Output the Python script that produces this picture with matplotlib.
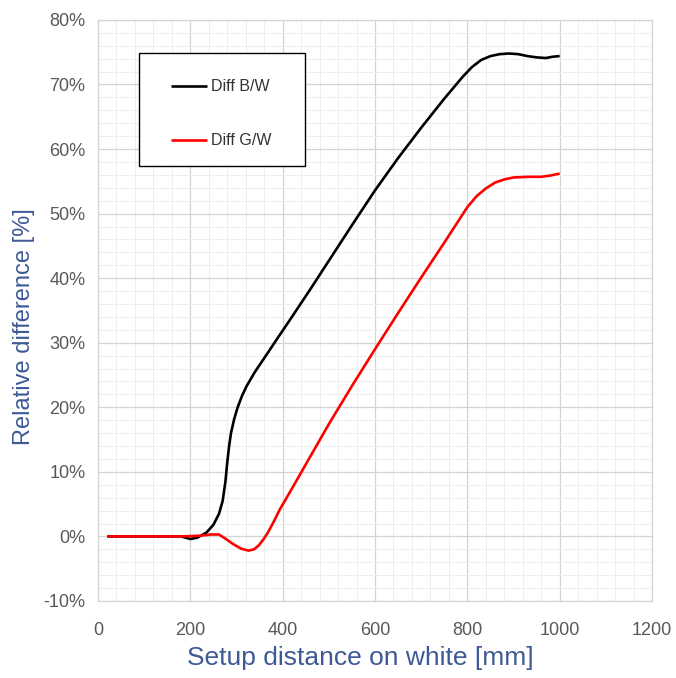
import numpy as np
import matplotlib.pyplot as plt
from matplotlib.patches import Rectangle
from matplotlib.ticker import MultipleLocator, PercentFormatter

# Diff B/W (black)
bw_x = [20, 100, 180, 200, 215, 235, 250, 262, 270, 276, 280, 284, 288, 295, 302, 312, 322, 340, 358,
        387, 420, 460, 500, 550, 600, 650, 700, 750, 790, 810, 830, 850, 870, 890, 910, 930, 950, 970, 985, 1000]
bw_y = [0.0, 0.0, 0.0, -0.4, -0.2, 0.6, 1.8, 3.5, 5.5, 8.5, 11.5, 14.0, 16.0, 18.2, 19.9, 21.8, 23.3, 25.5, 27.4,
        30.5, 34.0, 38.3, 42.7, 48.2, 53.6, 58.6, 63.3, 67.8, 71.2, 72.7, 73.8, 74.4, 74.7, 74.8, 74.7, 74.4, 74.2, 74.1, 74.3, 74.4]

# Diff G/W (red)
gw_x = [20, 100, 180, 220, 245, 262, 275, 293, 310, 326, 338, 348, 358, 368, 380, 394, 420, 460, 500,
        550, 600, 650, 700, 750, 780, 800, 820, 840, 860, 880, 900, 930, 960, 980, 1000]
gw_y = [0.0, 0.0, 0.0, 0.1, 0.3, 0.3, -0.3, -1.2, -1.9, -2.2, -2.0, -1.4, -0.5, 0.6, 2.2, 4.2, 7.4, 12.4, 17.4,
        23.3, 29.0, 34.6, 40.1, 45.5, 48.8, 51.0, 52.7, 53.9, 54.8, 55.3, 55.6, 55.7, 55.7, 55.9, 56.2]

x_ticks = [0, 200, 400, 600, 800, 1000, 1200]
y_ticks = [-10, 0, 10, 20, 30, 40, 50, 60, 70, 80]

plt.rcParams['font.family'] = ['Liberation Sans', 'DejaVu Sans']
plt.rcParams['axes.unicode_minus'] = False

fig = plt.figure(figsize=(6.76, 6.78), dpi=100)
ax = fig.add_axes([0.145, 0.1136, 0.8195, 0.857])

ax.plot(bw_x, bw_y, color='black', lw=1.9, label='Diff B/W', solid_capstyle='butt')
ax.plot(gw_x, gw_y, color='#ff0000', lw=1.9, label='Diff G/W', solid_capstyle='butt')

ax.set_xlim(0, 1200)
ax.set_ylim(-10, 80)
ax.set_xticks(x_ticks)
ax.set_yticks(y_ticks)
ax.xaxis.set_minor_locator(MultipleLocator(40))
ax.yaxis.set_minor_locator(MultipleLocator(2))
ax.yaxis.set_major_formatter(PercentFormatter(decimals=0))

ax.grid(True, which='major', color='#d4d4d4', lw=0.9)
ax.grid(True, which='minor', color='#eeeeee', lw=0.7)
ax.set_axisbelow(True)
for s in ax.spines.values():
  s.set_color('#d4d4d4')
  s.set_linewidth(0.9)
ax.tick_params(which='both', length=0, colors='#595959', labelsize=13)
ax.tick_params(axis='x', pad=15)
ax.tick_params(axis='y', pad=9)

ax.set_xlabel('Setup distance on white [mm]', fontsize=19, color='#3d5a96')
ax.set_ylabel('Relative difference [%]', fontsize=17, color='#3d5a96')
ax.xaxis.set_label_coords(0.473, -0.077)
ax.yaxis.set_label_coords(-0.114, 0.473)

# legend box
ax.add_patch(Rectangle((0.074, 0.7487), 0.2996, 0.1943, transform=ax.transAxes,
                       facecolor='white', edgecolor='black', lw=1.0, zorder=4))
leg = ax.legend(loc='upper left', bbox_to_anchor=(0.131, 0.898), frameon=False,
                fontsize=11.5, handlelength=2.3, handletextpad=0.2,
                labelspacing=2.45, borderpad=0, borderaxespad=0)
leg.set_zorder(5)
for t in leg.get_texts():
  t.set_color('#333333')

fig.savefig('out.png', dpi=100)
